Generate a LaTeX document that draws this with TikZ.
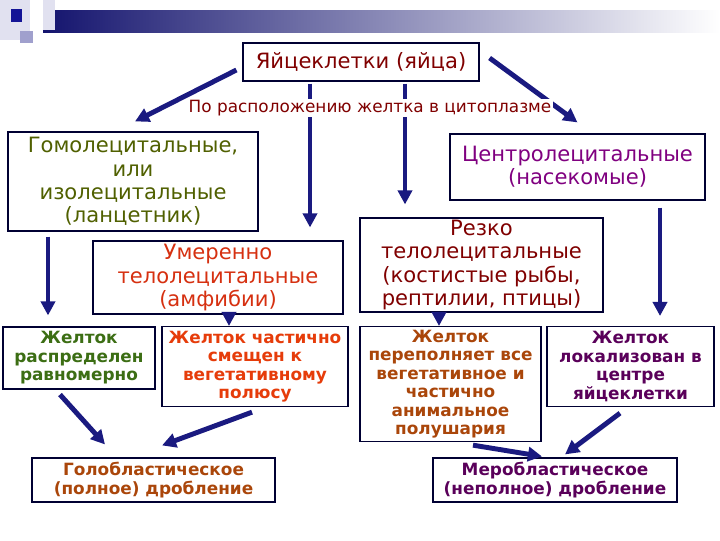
\documentclass[tikz,border=0pt]{standalone}
\usepackage{fontspec}
\setmainfont{DejaVu Sans}
\usetikzlibrary{arrows.meta, calc, positioning}
\definecolor{arrownavy}{RGB}{26,26,128}
\definecolor{headnavy}{RGB}{20,20,110}
\definecolor{sqpale}{RGB}{225,225,240}
\definecolor{sqmid}{RGB}{160,160,205}
\definecolor{sqdark}{RGB}{20,20,150}
\definecolor{eggred}{RGB}{128,0,0}
\definecolor{homoolive}{RGB}{80,96,0}
\definecolor{umerred}{RGB}{214,48,16}
\definecolor{centrpurple}{RGB}{128,0,128}
\definecolor{yolkgreen}{RGB}{60,110,20}
\definecolor{yolkorange}{RGB}{230,60,10}
\definecolor{yolkbrown}{RGB}{170,70,10}
\definecolor{yolkpurple}{RGB}{90,0,90}

\begin{document}
\begin{tikzpicture}[x=0.025cm, y=-0.025cm,
    box/.style={rectangle, draw=black!80!blue, line width=0.8pt, fill=white,
                align=center, inner sep=1pt,
                font=\fontsize{15}{16.5}\selectfont},
    ybox/.style={box, font=\fontsize{12}{13.2}\selectfont\bfseries},
    arr/.style={-{Triangle[length=10pt,width=10pt]}, line width=3.5pt,
                color=arrownavy},
    lab/.style={font=\fontsize{12}{13}\selectfont, text=eggred,
                fill=white, inner sep=1pt},
]
\useasboundingbox (0,0) rectangle (720,540);

%---------------------------------------------------------------
% header decoration
%---------------------------------------------------------------
\shade[left color=headnavy, right color=white] (43,10) rectangle (720,32);
\fill[sqpale] (0,0) rectangle (30,40);
\fill[sqpale] (43,0) rectangle (55,30);
\fill[sqmid] (20,31) rectangle (33,43);
\fill[sqdark] (11,9) rectangle (22,22);

%---------------------------------------------------------------
% egg types
%---------------------------------------------------------------
\node[box, text=eggred, minimum width=5.9cm, minimum height=0.95cm]
     (egg) at (361,62) {Яйцеклетки (яйца)};

\node[box, text=homoolive, minimum width=6.25cm, minimum height=2.475cm]
     (homo) at (133,181.5)
     {Гомолецитальные,\\или\\изолецитальные\\(ланцетник)};
\node[box, text=umerred, minimum width=6.25cm, minimum height=1.825cm]
     (umer) at (218,277.5)
     {Умеренно\\телолецитальные\\(амфибии)};
\node[box, text=centrpurple, minimum width=6.375cm, minimum height=1.65cm]
     (centr) at (577.5,167)
     {Центролецитальные\\(насекомые)};
\node[box, text=eggred, minimum width=6.075cm, minimum height=2.35cm]
     (rezko) at (481.5,265)
     {Резко\\телолецитальные\\(костистые рыбы,\\рептилии, птицы)};

%---------------------------------------------------------------
% yolk position
%---------------------------------------------------------------
\node[ybox, text=yolkgreen, minimum width=3.8cm, minimum height=1.55cm]
     (yolkA) at (79,358) {Желток\\распределен\\равномерно};
\node[ybox, text=yolkorange, minimum width=4.65cm, minimum height=2.0cm,
      anchor=north] (yolkB) at (255,326)
     {Желток частично\\смещен к\\вегетативному\\полюсу};
\node[ybox, text=yolkbrown, minimum width=4.525cm, minimum height=2.875cm,
      anchor=north] (yolkC) at (450.5,326)
     {Желток\\переполняет все\\вегетативное и\\частично\\анимальное\\полушария};
\node[ybox, text=yolkpurple, minimum width=4.175cm, minimum height=2.0cm,
      anchor=north] (yolkD) at (630.5,326)
     {Желток\\локализован в\\центре\\яйцеклетки};

%---------------------------------------------------------------
% cleavage
%---------------------------------------------------------------
\node[ybox, text=yolkbrown, minimum width=6.075cm, minimum height=1.1cm]
     (holo) at (153.5,480) {Голобластическое\\(полное) дробление};
\node[ybox, text=yolkpurple, minimum width=6.1cm, minimum height=1.1cm]
     (mero) at (555,480) {Меробластическое\\(неполное) дробление};

%---------------------------------------------------------------
% arrows
%---------------------------------------------------------------
\draw[arr] ($(egg.west)+(-6,8)$) -- ($(homo.north)+(2,-10)$);
\draw[arr] ($(egg.south)+(-51,2)$) -- ($(umer.north)+(92,-13)$);
\draw[arr] ($(egg.south)+(44,2)$) -- ($(rezko.north)+(-76.5,-13)$);
\draw[arr] ($(egg.east)+(10,-4)$) -- ($(centr.north)+(0,-11)$);

\node[lab] (place) at (370,108) {По расположению желтка в цитоплазме};

\draw[arr] ($(homo.south)+(-85,5)$) -- ($(yolkA.north)+(-31,-11)$);
\draw[arr] ($(umer.south)+(11,0)$) -- ($(yolkB.north)+(-26,0)$);
\draw[arr] ($(rezko.south)+(-42.5,0)$) -- ($(yolkC.north)+(-11.5,0)$);
\draw[arr] ($(centr.south)+(82.5,7)$) -- ($(yolkD.north)+(29.5,-10)$);

\draw[arr] ($(yolkA.south)+(-19,5)$) -- ($(holo.north)+(-48.5,-13)$);
\draw[arr] ($(yolkB.south)+(-3,5)$) -- ($(holo.north)+(8.5,-12)$);
\draw[arr] ($(yolkC.south)+(22.5,3)$) -- ($(mero.north)+(-13,-1)$);
\draw[arr] ($(yolkD.south)+(-10.5,6)$) -- ($(mero.north)+(10,-3)$);

\end{tikzpicture}
\end{document}
